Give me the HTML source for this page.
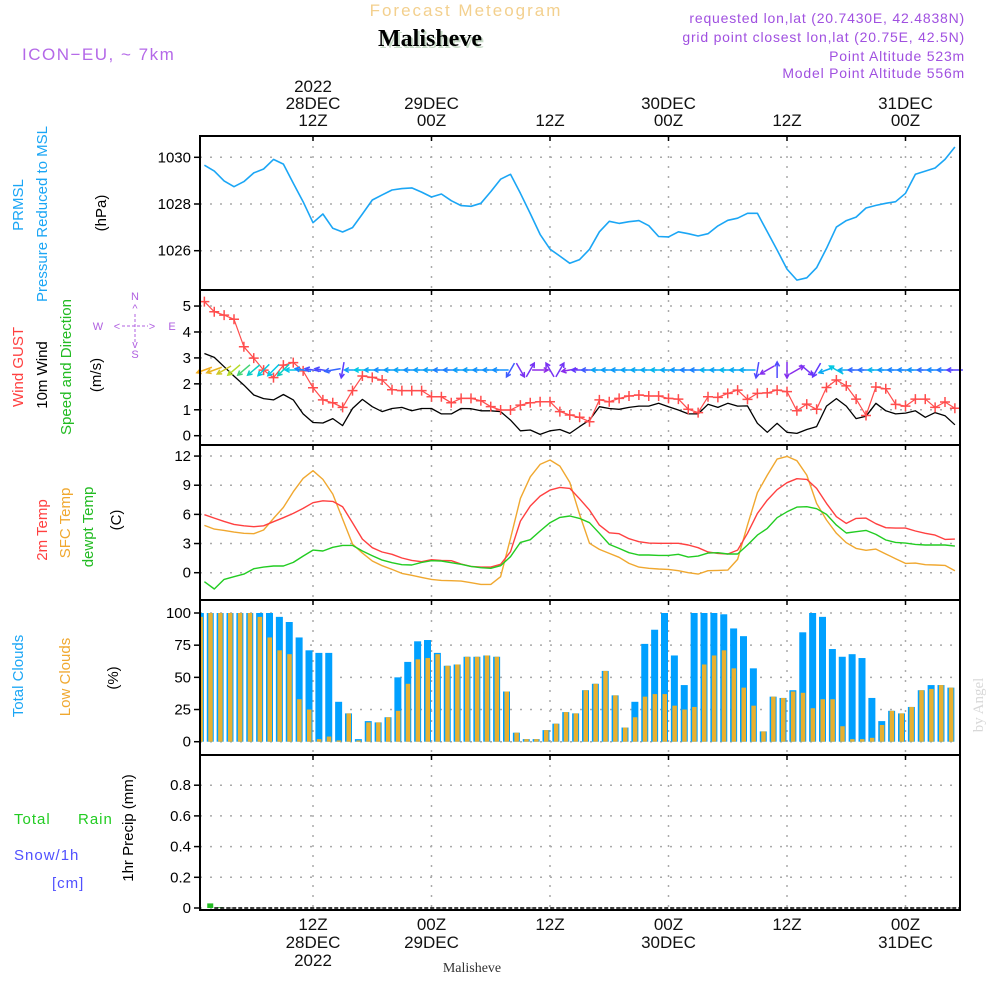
<!DOCTYPE html>
<html><head><meta charset="utf-8"><style>
html,body{margin:0;padding:0;background:#fff;}
svg{display:block;font-family:"Liberation Sans",sans-serif;}
</style></head><body>
<svg id="chart" width="1000" height="1000" viewBox="0 0 1000 1000" xmlns="http://www.w3.org/2000/svg">
<rect x="0" y="0" width="1000" height="1000" fill="#fff"/>
<text x="466" y="16" text-anchor="middle" font-size="17" letter-spacing="2" fill="#f3d08e">Forecast Meteogram</text>
<text x="432" y="48" text-anchor="middle" font-family="Liberation Serif,serif" font-weight="bold" font-size="24" fill="#c9dcc9">Malisheve</text>
<text x="430" y="46" text-anchor="middle" font-family="Liberation Serif,serif" font-weight="bold" font-size="24" fill="#000">Malisheve</text>
<text x="22" y="60" font-size="17" letter-spacing="1.5" fill="#b468e8">ICON−EU, ~ 7km</text>
<g fill="#a050e0" font-size="14" text-anchor="end" letter-spacing="0.8">
<text x="965" y="23">requested lon,lat (20.7430E, 42.4838N)</text>
<text x="965" y="42">grid point closest lon,lat (20.75E, 42.5N)</text>
<text x="965" y="61">Point Altitude 523m</text>
<text x="965" y="78">Model Point Altitude 556m</text>
</g>
<text transform="translate(983,705) rotate(-90)" text-anchor="middle" font-family="Liberation Serif,serif" font-size="15" fill="#d8d8d8">by Angel</text>
<g id="labels" font-size="15"></g>
<g id="plot"></g>
</svg>
<script>
// ---------- data (hourly, hours 1..77 from 28DEC 00Z) ----------
const pressure=[1029.66,1029.41,1028.99,1028.74,1028.96,1029.33,1029.5,1029.91,1029.71,1028.89,1028.1,1027.2,1027.57,1026.96,1026.8,1026.99,1027.57,1028.17,1028.39,1028.6,1028.66,1028.69,1028.51,1028.3,1028.43,1028.14,1027.93,1027.9,1028.03,1028.53,1029.06,1029.27,1028.46,1027.59,1026.7,1026.07,1025.77,1025.46,1025.62,1026.06,1026.81,1027.26,1027.17,1027.24,1027.29,1027.07,1026.61,1026.59,1026.81,1026.73,1026.63,1026.73,1027.06,1027.3,1027.39,1027.6,1027.6,1026.81,1026.03,1025.21,1024.74,1024.84,1025.27,1026.1,1027.01,1027.29,1027.44,1027.83,1027.94,1028.03,1028.1,1028.46,1029.27,1029.41,1029.54,1029.91,1030.44];
const gust=[5.17,4.78,4.65,4.49,3.43,2.99,2.53,2.24,2.72,2.82,2.5,1.85,1.38,1.27,1.09,1.74,2.3,2.25,2.15,1.77,1.74,1.74,1.74,1.5,1.5,1.27,1.44,1.44,1.35,1.12,0.99,0.99,1.18,1.27,1.31,1.31,0.93,0.8,0.71,0.54,1.38,1.31,1.44,1.53,1.57,1.53,1.53,1.44,1.41,1.02,0.89,1.5,1.48,1.63,1.76,1.4,1.63,1.65,1.76,1.7,0.96,1.22,1.02,1.86,2.15,1.92,1.41,0.78,1.88,1.81,1.21,1.14,1.41,1.41,1.09,1.3,1.06];
const wind=[3.17,3.02,2.66,2.3,1.95,1.57,1.43,1.38,1.59,1.38,0.84,0.51,0.49,0.66,0.39,1.05,1.4,1.12,0.93,1.05,1.09,0.96,1.05,1.05,0.84,0.84,1.05,1.04,0.96,0.96,0.93,0.6,0.19,0.22,0.05,0.19,0.24,0.09,0.35,0.6,1.12,1.05,1.02,1.09,1.14,1.14,1.25,1.12,0.99,0.84,0.84,1.21,1.09,1.25,1.14,1.15,0.48,0.13,0.48,0.13,0.09,0.24,0.35,1.14,1.43,1.14,0.66,0.75,1.25,0.96,0.84,0.87,0.96,0.71,0.89,0.77,0.42];
// direction the arrow points, screen degrees (0=right, 90=down, 180=left)
const windDir=[160,160,150,140,140,140,135,135,135,180,190,190,190,170,100,180,180,180,180,180,180,180,180,180,180,180,180,180,180,180,180,120,60,300,0,240,300,170,180,180,180,180,180,180,180,180,180,180,180,180,180,180,180,180,180,180,100,150,270,90,330,40,120,160,210,180,180,180,180,180,180,180,180,180,180,180,180];
const t2m=[5.97,5.62,5.28,4.97,4.83,4.73,4.83,5.25,5.66,6.1,6.62,7.2,7.4,7.34,6.79,5.14,3.46,2.57,2.13,1.89,1.51,1.27,1.13,1.34,1.27,1.23,0.89,0.65,0.58,0.58,0.86,2.16,5.31,6.86,7.88,8.5,8.78,8.67,7.6,6.44,4.9,4.11,4.01,3.5,3.19,3.05,3.02,3.02,3.02,2.85,2.57,2.13,1.99,1.92,2.33,4.05,6.1,7.47,8.54,9.26,9.67,9.6,8.67,7.13,5.76,5.07,5.59,5.62,5.04,4.63,4.59,4.59,4.29,4.05,3.87,3.43,3.46];
const tsfc=[4.87,4.49,4.35,4.18,4.05,4.01,4.39,5.59,6.72,8.33,9.7,10.49,9.6,8.09,5.52,2.95,2.02,1.2,0.72,0.34,-0.07,-0.27,-0.48,-0.69,-0.79,-0.82,-0.86,-1.03,-1.2,-1.2,-0.41,3.53,7.64,9.87,11.14,11.59,10.97,9.29,6.0,3.02,2.4,1.99,1.58,0.96,0.58,0.45,0.38,0.34,0.21,0,-0.14,0.21,0.24,0.27,1.37,4.9,8.23,10.04,11.69,11.96,11.52,10.04,7.13,5.42,4.05,3.09,2.5,2.3,2.43,1.92,1.44,0.96,0.99,0.82,0.79,0.75,0.21];
const dewpt=[-0.93,-1.68,-0.69,-0.41,-0.14,0.41,0.58,0.69,0.69,1.06,1.71,2.33,2.23,2.61,2.81,2.81,2.23,1.75,1.3,1.03,0.82,0.79,1.06,1.23,1.2,1.03,0.86,0.65,0.51,0.45,0.72,1.65,3.12,3.39,4.29,5.14,5.69,5.83,5.59,5.14,4.05,2.91,2.5,2.06,1.82,1.82,1.78,1.78,1.89,1.61,1.71,2.02,2.06,1.92,1.92,2.85,3.87,4.56,5.66,6.27,6.75,6.79,6.58,6.0,4.9,4.08,4.22,4.35,3.94,3.36,3.12,3.05,2.91,2.85,2.85,2.85,2.74];
const totalCloud=[100,100,100,100,100,100,100,100,97,93,81,71,69,69,31,22,2,16,15,19,50,62,78,79,69,59,60,66,66,67,66,39,7,2,2,9,14,23,22,40,45,55,36,11,31,76,87,100,67,44,100,100,100,99,88,82,57,8,35,34,40,85,100,97,72,66,68,65,34,16,24,22,27,40,44,44,42];
const lowCloud=[97,100,100,100,100,100,97,81,71,68,33,25,2,4,1,22,1,15,15,19,24,45,64,65,68,59,60,66,66,67,66,39,7,2,2,9,14,23,22,40,45,55,36,11,19,35,37,37,28,25,27,60,67,71,57,42,28,8,35,34,39,38,26,33,33,12,2,2,3,13,24,22,27,40,41,44,42];
const rain=[0,0.03,0.005,0,0,0,0,0,0,0,0,0,0,0,0,0,0,0,0,0,0,0,0,0,0,0,0,0,0,0,0,0,0,0,0,0,0,0,0,0,0,0,0,0,0,0,0,0,0,0,0,0,0,0,0,0,0,0,0,0,0,0,0,0,0,0,0,0,0,0,0,0,0,0,0,0,0];
const pTicks=[1026,1028,1030];
const wTicks=[0,1,2,3,4,5];
const tTicks=[0,3,6,9,12];
const cTicks=[0,25,50,75,100];
const rTicks=[0,0.2,0.4,0.6,0.8];
const timeTicks=[12,24,36,48,60,72];
const topLabels=[["2022","28DEC","12Z"],["","29DEC","00Z"],["","","12Z"],["","30DEC","00Z"],["","","12Z"],["","31DEC","00Z"]];
const botLabels=[["12Z","28DEC","2022"],["00Z","29DEC",""],["12Z","",""],["00Z","30DEC",""],["12Z","",""],["00Z","31DEC",""]];

// ---------- scales ----------
const X0=200,X1=960;
const xs=h=>313+(h-12)*9.875;
const panels=[
 {name:'pressure',top:136,bot:290,y:v=>204-(v-1028)*23.35,ticks:pTicks,fmt:v=>String(v)},
 {name:'wind',top:290,bot:445,y:v=>435.7-v*25.93,ticks:wTicks,fmt:v=>String(v)},
 {name:'temperature',top:445,bot:600,y:v=>572.7-v*9.72,ticks:tTicks,fmt:v=>String(v)},
 {name:'clouds',top:600,bot:755,y:v=>741.7-v*1.287,ticks:cTicks,fmt:v=>String(v)},
 {name:'precip',top:755,bot:910,y:v=>908-v*153.5,ticks:rTicks,fmt:v=>v===0?'0':v.toFixed(1)}
];
const NS='http://www.w3.org/2000/svg';
const plot=document.getElementById('plot');
const labels=document.getElementById('labels');
function mk(tag,attrs,parent){const e=document.createElementNS(NS,tag);for(const k in attrs)e.setAttribute(k,attrs[k]);(parent||plot).appendChild(e);return e;}

// panels: grid + frame + ticks
panels.forEach(p=>{
  const g=mk('g',{});
  
  
  p.ticks.forEach(v=>{
    const y=p.y(v);
    const gl=mk('line',{x1:X0,x2:X1,y1:y,y2:y,stroke:'#aaa','stroke-width':1.5,'stroke-dasharray':'2,8'},g);
    
    
    mk('line',{x1:X0-6,x2:X0,y1:y,y2:y,stroke:'#000','stroke-width':1.5},g);
    const t=mk('text',{x:X0-9,y:y+5,'text-anchor':'end','font-size':15,fill:'#000'},g);
    t.textContent=p.fmt(v);
    
    
  });
  timeTicks.forEach(h=>{
    const x=xs(h);
    mk('line',{x1:x,x2:x,y1:p.top,y2:p.bot,stroke:'#aaa','stroke-width':1.5,'stroke-dasharray':'2,8'},g);
    mk('line',{x1:x,x2:x,y1:p.top,y2:p.top+5,stroke:'#000','stroke-width':1.5},g);
  });
  p.g=g;
});

// top and bottom time labels
timeTicks.forEach((h,i)=>{
  const x=xs(h);
  topLabels[i].forEach((s,j)=>{ if(!s)return;
    const t=mk('text',{x:x,y:92+j*17,'text-anchor':'middle','font-size':17,fill:'#111'});
    t.textContent=s;
    
    
  });
  botLabels[i].forEach((s,j)=>{ if(!s)return;
    const t=mk('text',{x:x,y:930+j*18,'text-anchor':'middle','font-size':17,fill:'#111'});
    t.textContent=s;
    
    
  });
});
const bl=mk('text',{x:472,y:972,'text-anchor':'middle','font-family':'Liberation Serif,serif','font-size':14,fill:'#333'});
bl.textContent='Malisheve';



function line(arr,p,color,name,w){
  const d=arr.map((v,i)=>(i?'L':'M')+xs(i+1).toFixed(1)+','+p.y(v).toFixed(1)).join(' ');
  const e=mk('path',{d:d,fill:'none',stroke:color,'stroke-width':w||1.5,'stroke-linejoin':'round'});
  
  
  return e;
}
// pressure
line(pressure,panels[0],'#1ba6f5','pressure-line',1.6);
// wind
const pw=panels[1];
line(wind,pw,'#000','wind-speed-line',1.3);
line(gust,pw,'#ff4d4d','wind-gust-line',1.2);
gust.forEach((v,i)=>{
  const x=xs(i+1),y=pw.y(v);
  const m=mk('path',{d:`M${x-5},${y}H${x+5}M${x},${y-5}V${y+5}`,stroke:'#ff4d4d','stroke-width':1.5});
  
  
});
function windColor(s){
  const stops=[[0,[150,40,230]],[0.4,[90,60,255]],[0.9,[20,140,255]],[1.4,[0,200,230]],[1.8,[20,210,150]],[2.3,[180,220,40]],[3.2,[245,170,30]]];
  if(s<=stops[0][0])return 'rgb('+stops[0][1]+')';
  for(let k=1;k<stops.length;k++){ if(s<=stops[k][0]){const a=stops[k-1],b=stops[k],f=(s-a[0])/(b[0]-a[0]);return 'rgb('+a[1].map((c,j)=>Math.round(c+(b[1][j]-c)*f))+')';}}
  return 'rgb('+stops[stops.length-1][1]+')';
}
windDir.forEach((deg,i)=>{
  const x=xs(i+1),y=370,r=deg*Math.PI/180,L=8;
  const dx=Math.cos(r)*L,dy=Math.sin(r)*L;
  const hx=x+dx,hy=y+dy;
  const a1=r+Math.PI-0.5,a2=r+Math.PI+0.5;
  const c=windColor(wind[i]);
  const e=mk('path',{d:`M${x-dx},${y-dy}L${hx},${hy}M${hx+Math.cos(a1)*5},${hy+Math.sin(a1)*5}L${hx},${hy}L${hx+Math.cos(a2)*5},${hy+Math.sin(a2)*5}`,stroke:c,'stroke-width':1.5,fill:'none'});
  
  
});
// temperature
const pt=panels[2];
line(tsfc,pt,'#f0a830','sfc-temp-line',1.4);
line(t2m,pt,'#ff4040','2m-temp-line',1.4);
line(dewpt,pt,'#22cc22','dewpoint-line',1.4);
// clouds
const pc=panels[3];
totalCloud.forEach((v,i)=>{
  const cx=xs(i+1)-4;
  const x=Math.max(X0,cx-3.5),w=cx+3.5-x;
  const b=mk('rect',{x:x,y:pc.y(v),width:w,height:pc.y(0)-pc.y(v),fill:'#00a0ff'});
  
  
  const lv=lowCloud[i];
  const lx=Math.max(X0,cx-2),lw=cx+2.5-lx;
  const o=mk('rect',{x:lx,y:pc.y(lv),width:lw,height:pc.y(0)-pc.y(lv),fill:'#e8b030'});
  
  
});
// precipitation
const pr=panels[4];
rain.forEach((v,i)=>{
  if(v<=0)return;
  const cx=xs(i+1)-4;
  const b=mk('rect',{x:cx-3,y:pr.y(v),width:6,height:pr.y(0)-pr.y(v),fill:'#22bb22'});
  
  
});
const zl=mk('line',{x1:xs(2),x2:X1,y1:pr.y(0),y2:pr.y(0),stroke:'#000','stroke-width':1.5,'stroke-dasharray':'4,2'});


// frames
panels.forEach(p=>{
  const f=mk('rect',{x:X0,y:p.top,width:X1-X0,height:p.bot-p.top,fill:'none',stroke:'#000','stroke-width':2});
  
  
});

// ---------- left axis titles ----------
function vlabel(x,y,txt,color,name,size){
  const t=mk('text',{transform:`translate(${x},${y}) rotate(-90)`,'text-anchor':'middle','font-size':size||15,fill:color},labels);
  t.textContent=txt;
  
  
}
function hlabel(x,y,txt,color,name){
  const t=mk('text',{x:x,y:y,'font-size':15,fill:color,'letter-spacing':'1'},labels);
  t.textContent=txt;
  
  
}
vlabel(23,205,'PRMSL','#1ba6f5','prmsl-label');
vlabel(47,214,'Pressure Reduced to MSL','#1ba6f5','pressure-axis-title');
vlabel(106,213,'(hPa)','#000','pressure-unit');
vlabel(23,367,'Wind GUST','#ff4040','gust-axis-title');
vlabel(47,375,'10m Wind','#000','wind-axis-title');
vlabel(71,367,'Speed and Direction','#22bb22','wind-direction-title');
vlabel(101,375,'(m/s)','#000','wind-unit');
vlabel(47,530,'2m Temp','#ff4040','temp-axis-title');
vlabel(70,523,'SFC Temp','#f0a830','sfc-temp-axis-title');
vlabel(93,527,'dewpt Temp','#22bb22','dewpt-axis-title');
vlabel(121,520,'(C)','#000','temp-unit');
vlabel(23,676,'Total Clouds','#1ba6f5','total-clouds-title');
vlabel(70,677,'Low Clouds','#f0a830','low-clouds-title');
vlabel(118,678,'(%)','#000','cloud-unit');
vlabel(133,828,'1hr Precip (mm)','#000','precip-axis-title');
hlabel(14,824,'Total','#22cc22','total-rain-label');
hlabel(78,824,'Rain','#22cc22','rain-label');
hlabel(14,860,'Snow/1h','#5050ff','snow-label');
hlabel(52,888,'[cm]','#5050ff','snow-unit');
// compass
const cg=mk('g',{fill:'#b060e0','font-size':11,'text-anchor':'middle'},labels);


[['N',135,300],['W',98,330],['E',172,330],['S',135,358],['<',117,330],['>',152,330],['^',135,312],['v',135,348]].forEach(a=>{const t=mk('text',{x:a[1],y:a[2]},cg);t.textContent=a[0];});
mk('path',{d:'M122,326H148M135,314V344',stroke:'#b060e0','stroke-width':1,'stroke-dasharray':'3,2',fill:'none'},cg);
</script>
</body></html>
